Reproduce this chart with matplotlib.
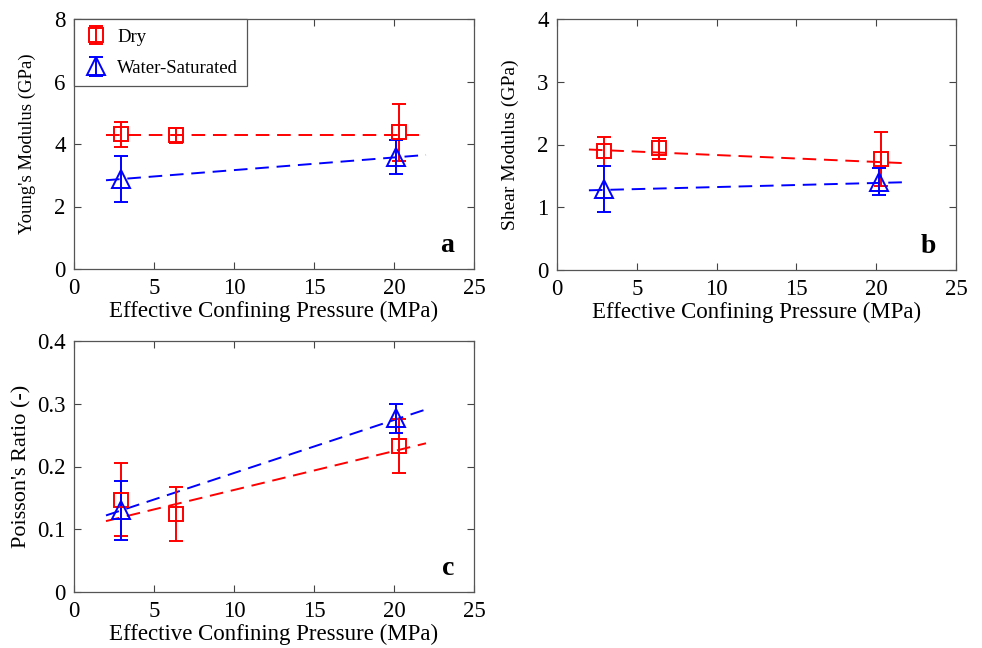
import matplotlib
matplotlib.use("Agg")
import matplotlib.pyplot as plt
import numpy as np

plt.rcParams['font.family'] = ['Liberation Serif', 'DejaVu Serif']

# pressures (MPa)
dry_p = [2.92, 6.4, 20.3]
wet_p = [2.95, 20.15]
fit_p = [2.0, 22.0]

# a: Young's modulus (GPa)
dry_E = [4.31, 4.28, 4.37]
dry_E_err = [0.39, 0.24, 0.92]
wet_E = [2.88, 3.58]
wet_E_err = [0.74, 0.55]
dry_E_fit = [4.30, 4.30]
wet_E_fit = [2.84, 3.65]

# b: shear modulus (GPa)
dry_G = [1.89, 1.94, 1.77]
dry_G_err = [0.23, 0.17, 0.43]
wet_G = [1.29, 1.41]
wet_G_err = [0.37, 0.22]
dry_G_fit = [1.92, 1.70]
wet_G_fit = [1.27, 1.40]

# c: Poisson's ratio (-)
dry_nu = [0.147, 0.124, 0.233]
dry_nu_err = [0.058, 0.043, 0.043]
wet_nu = [0.130, 0.277]
wet_nu_err = [0.047, 0.023]
dry_nu_fit = [0.113, 0.237]
wet_nu_fit = [0.122, 0.291]

fig = plt.figure(figsize=(9.82, 6.48), dpi=100)
W, H = 982.0, 648.0
def make_ax(l, t, r, b):
    return fig.add_axes([l / W, 1 - b / H, (r - l) / W, (b - t) / H])

ax_a = make_ax(74, 19, 474, 269)
ax_b = make_ax(557, 19, 956, 270)
ax_c = make_ax(74, 341, 474, 592)

dash = (0, (7, 4))

def panel(ax, dy, dye, wy, wye, dfit, wfit, ylim, yticks, ylabel, ysize, ypad, letter):
    ax.plot(fit_p, dfit, color='red', lw=1.4, linestyle=dash)
    ax.plot(fit_p, wfit, color='blue', lw=1.4, linestyle=dash)
    h1 = ax.errorbar(dry_p, dy, yerr=dye, fmt='s', color='red', mfc='none',
                     ms=10, mew=1.4, elinewidth=1.4, capsize=5, capthick=1.4,
                     label='Dry')
    h2 = ax.errorbar(wet_p, wy, yerr=wye, fmt='^', color='blue', mfc='none',
                     ms=13.5, mew=1.4, elinewidth=1.4, capsize=5, capthick=1.4,
                     label='Water-Saturated')
    ax.set_xlim(0, 25)
    ax.set_ylim(*ylim)
    ax.set_xticks([0, 5, 10, 15, 20, 25])
    ax.set_yticks(yticks)
    ax.set_yticklabels(['{:g}'.format(v) for v in yticks])
    ax.tick_params(direction='in', top=True, right=True, labelsize=16.5,
                   length=5, color='#444444')
    ax.tick_params(axis='x', pad=6.5)
    ax.tick_params(axis='y', pad=6)
    for s in ax.spines.values():
        s.set_color('#555555')
        s.set_linewidth(0.9)
    ax.set_xlabel('Effective Confining Pressure (MPa)', fontsize=16.5, labelpad=1)
    ax.set_ylabel(ylabel, fontsize=ysize, labelpad=ypad)
    ax.text(0.95, 0.045, letter, transform=ax.transAxes, ha='right', va='bottom',
            fontsize=20, fontweight='bold')
    return h1, h2

h1, h2 = panel(ax_a, dry_E, dry_E_err, wet_E, wet_E_err, dry_E_fit, wet_E_fit,
               (0, 8), [0, 2, 4, 6, 8], "Young's Modulus (GPa)", 13.5, 13, 'a')
panel(ax_b, dry_G, dry_G_err, wet_G, wet_G_err, dry_G_fit, wet_G_fit,
      (0, 4), [0, 1, 2, 3, 4], "Shear Modulus (GPa)", 14, 13, 'b')
panel(ax_c, dry_nu, dry_nu_err, wet_nu, wet_nu_err, dry_nu_fit, wet_nu_fit,
      (0, 0.4), [0, 0.1, 0.2, 0.3, 0.4], "Poisson's Ratio (-)", 16, 4, 'c')

leg = ax_a.legend(handles=[h1, h2], loc='upper left', fontsize=13.5,
                  fancybox=False, framealpha=1, edgecolor='#555555',
                  borderaxespad=0, handlelength=1.3, borderpad=0.5,
                  labelspacing=0.75, handletextpad=0.5)
leg.get_frame().set_linewidth(0.9)

fig.savefig('out.png', dpi=100)
